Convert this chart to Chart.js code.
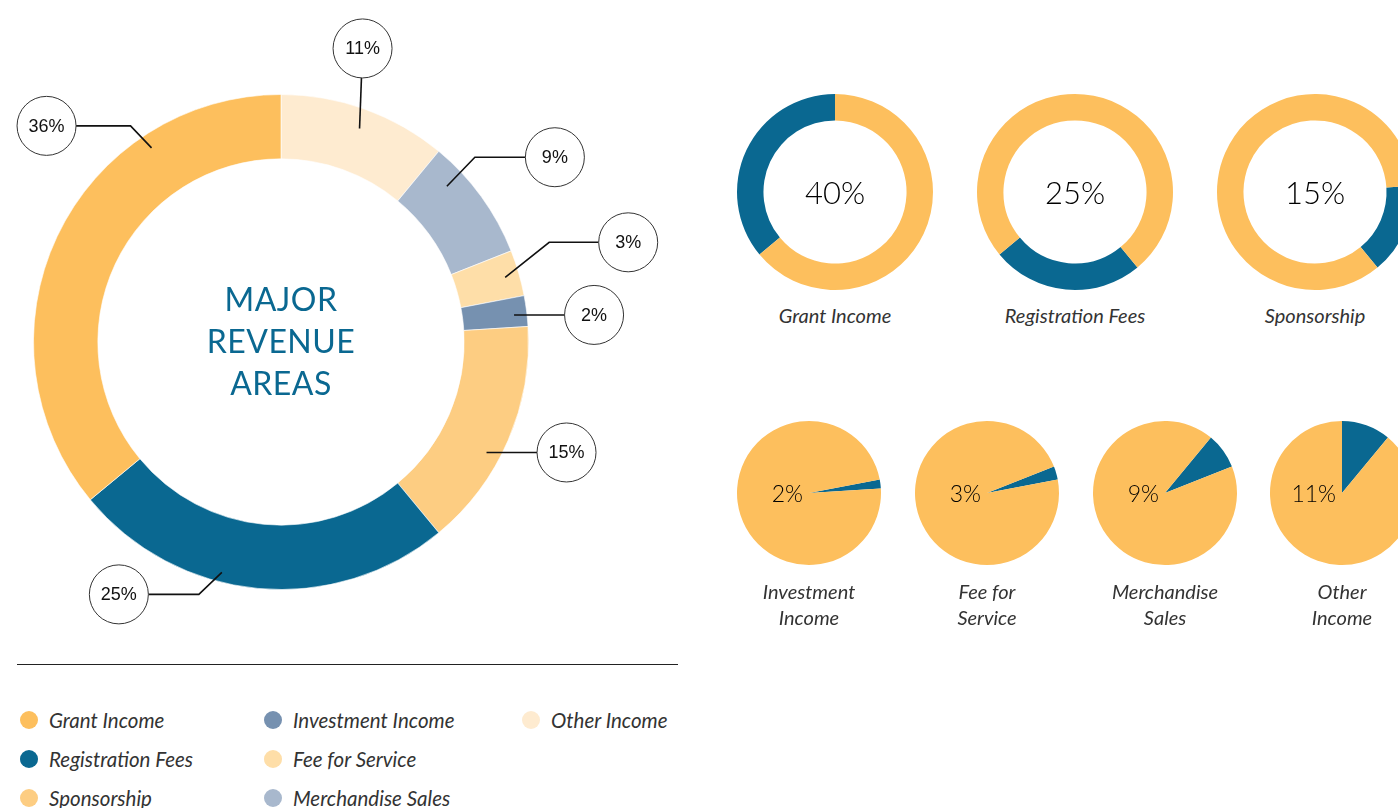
<!DOCTYPE html>
<html>
<head>
<meta charset="utf-8">
<script src="https://cdn.jsdelivr.net/npm/chart.js@4.4.0/dist/chart.umd.min.js"></script>
<style>
  html, body { margin: 0; padding: 0; background: #fff; }
  body { width: 1398px; height: 808px; overflow: hidden; position: relative; font-family: 'Lato', sans-serif; }
  canvas { position: absolute; }
  .title { position: absolute; left: 131px; top: 278px; width: 300px; text-align: center;
           color: #0a6891; font-size: 32px; line-height: 42px; letter-spacing: 0.5px; }
  .big-pct { position: absolute; width: 200px; text-align: center; font-size: 31px; font-weight: 300;
             color: #000; line-height: 40px; }
  .pie-pct { position: absolute; width: 80px; text-align: right; font-size: 23px; font-weight: 300;
             color: #000; line-height: 30px; }
  .small-title { position: absolute; width: 220px; text-align: center; font-size: 20px; font-style: italic;
                 color: #333; line-height: 26px; white-space: pre-line; }
  .divider { position: absolute; left: 17px; top: 664px; width: 661px; height: 1px; background: #222; }
  .legend-item { position: absolute; height: 26px; display: flex; align-items: center;
                 font-size: 20.5px; font-style: italic; color: #333; white-space: nowrap; }
  .legend-item span.dot { width: 18px; height: 18px; border-radius: 50%; margin-right: 11px; }
</style>
</head>
<body>
<canvas id="mainChart" width="700" height="650" style="left:0;top:0"></canvas>
<div class="title">MAJOR<br>REVENUE<br>AREAS</div>
<div class="divider"></div>

<script>
// legend order
const categories = ['Grant Income', 'Registration Fees', 'Sponsorship', 'Investment Income',
                    'Fee for Service', 'Merchandise Sales', 'Other Income'];
// arc sizes as drawn in the big ring (percent)
const shares = [36, 25, 15, 2, 3, 8, 11];
// percentages printed on the callout bubbles
const shareLabels = ['36%', '25%', '15%', '2%', '3%', '9%', '11%'];
// percentages printed on the small charts
const detailLabels = ['40%', '25%', '15%', '2%', '3%', '9%', '11%'];
// titles under the small charts
const detailTitles = ['Grant Income', 'Registration Fees', 'Sponsorship', 'Investment\nIncome',
                      'Fee for\nService', 'Merchandise\nSales', 'Other\nIncome'];

const colors = ['#fdbf5d', '#0a6891', '#fdcd82', '#7691b0', '#fedea8', '#a8b8cd', '#feebd0'];
const accentBlue = '#0a6891';
const accentYellow = '#fdbf5d';

// callout styling, legend order: where on the arc the leader starts, elbow and bubble offsets
const calloutStyle = [
    { frac: 0.74, depth: 0.78, elbow: [-21, -22], bubble: [-105, -22] },
    { frac: 0.60, depth: 0.85, elbow: [-23, 22], bubble: [-103, 22] },
    { frac: 0.59, depth: 0.78, elbow: [0, 0], bubble: [80, 0] },
    { frac: 0.58, depth: 0.80, elbow: [0, 0], bubble: [80, 0] },
    { frac: 0.51, depth: 0.78, elbow: [44, -35], bubble: [123, -35] },
    { frac: 0.25, depth: 0.69, elbow: [28, -29], bubble: [108, -29] },
    { frac: 0.51, depth: 0.69, elbow: [0, 0], bubble: [3, -80] }
];

// the ring runs clockwise from the top in reverse legend order
const ringOrder = categories.map((_, i) => i).reverse();
const total = shares.reduce((a, b) => a + b, 0);

const calloutPlugin = {
    id: 'callouts',
    afterDatasetsDraw(chart) {
        const ctx = chart.ctx;
        const arcs = chart.getDatasetMeta(0).data;
        const R = 29.5;
        ctx.save();
        arcs.forEach((arc, n) => {
            const i = ringOrder[n];
            const s = calloutStyle[i];
            const p = arc.getProps(['x', 'y', 'startAngle', 'endAngle', 'innerRadius', 'outerRadius'], true);
            const a = p.startAngle + (p.endAngle - p.startAngle) * s.frac;
            const r = p.innerRadius + (p.outerRadius - p.innerRadius) * s.depth;
            const ax = p.x + Math.cos(a) * r;
            const ay = p.y + Math.sin(a) * r;
            const ex = ax + s.elbow[0], ey = ay + s.elbow[1];
            const cx = ax + s.bubble[0], cy = ay + s.bubble[1];
            const dx = cx - ex, dy = cy - ey, len = Math.hypot(dx, dy);
            const bx = cx - dx / len * R, by = cy - dy / len * R;

            ctx.strokeStyle = '#111';
            ctx.lineWidth = 1.6;
            ctx.beginPath();
            ctx.moveTo(ax, ay);
            ctx.lineTo(ex, ey);
            ctx.lineTo(bx, by);
            ctx.stroke();

            ctx.fillStyle = '#fff';
            ctx.strokeStyle = '#333';
            ctx.lineWidth = 1;
            ctx.beginPath();
            ctx.arc(cx, cy, R, 0, Math.PI * 2);
            ctx.fill();
            ctx.stroke();

            ctx.fillStyle = '#111';
            ctx.font = '18px "Liberation Sans", Arial, sans-serif';
            ctx.textAlign = 'center';
            ctx.textBaseline = 'middle';
            ctx.fillText(shareLabels[i], cx, cy + 1);
        });
        ctx.restore();
    }
};

new Chart(document.getElementById('mainChart').getContext('2d'), {
    type: 'doughnut',
    data: {
        labels: ringOrder.map(i => categories[i]),
        datasets: [{
            data: ringOrder.map(i => shares[i]),
            backgroundColor: ringOrder.map(i => colors[i]),
            borderColor: 'rgba(255,255,255,0.6)',
            borderWidth: 1
        }]
    },
    options: {
        responsive: false,
        animation: false,
        cutout: '74%',
        layout: { padding: { left: 33, right: 171, top: 93, bottom: 59 } },
        plugins: { legend: { display: false }, tooltip: { enabled: false } }
    },
    plugins: [calloutPlugin]
});

// small charts: first three are rings, the rest are pies
const smallSpots = [
    { cx: 835, cy: 192, r: 98, titleY: 302 },
    { cx: 1075, cy: 192, r: 98, titleY: 302 },
    { cx: 1315, cy: 192, r: 98, titleY: 302 },
    { cx: 809, cy: 493, r: 72, titleY: 578 },
    { cx: 987, cy: 493, r: 72, titleY: 578 },
    { cx: 1165, cy: 493, r: 72, titleY: 578 },
    { cx: 1342, cy: 493, r: 72, titleY: 578 }
];

categories.forEach((name, k) => {
    const spot = smallSpots[k];
    const isRing = k < 3;
    const size = spot.r * 2 + 4;
    const canvas = document.createElement('canvas');
    canvas.width = size;
    canvas.height = size;
    canvas.style.left = (spot.cx - size / 2) + 'px';
    canvas.style.top = (spot.cy - size / 2) + 'px';
    document.body.appendChild(canvas);

    // start angle = everything that comes before it going clockwise in the big ring
    let before = 0;
    for (let j = k + 1; j < shares.length; j++) before += shares[j];

    new Chart(canvas.getContext('2d'), {
        type: isRing ? 'doughnut' : 'pie',
        data: {
            labels: [name, 'Rest'],
            datasets: [{
                data: [shares[k], total - shares[k]],
                backgroundColor: [accentBlue, accentYellow],
                borderWidth: 0
            }]
        },
        options: {
            responsive: false,
            animation: false,
            rotation: before / total * 360,
            cutout: isRing ? '73%' : 0,
            layout: { padding: 2 },
            plugins: { legend: { display: false }, tooltip: { enabled: false } }
        }
    });

    const pct = document.createElement('div');
    pct.textContent = detailLabels[k];
    if (isRing) {
        pct.className = 'big-pct';
        pct.style.left = (spot.cx - 100) + 'px';
        pct.style.top = (spot.cy - 20) + 'px';
    } else {
        pct.className = 'pie-pct';
        pct.style.left = (spot.cx - 6 - 80) + 'px';
        pct.style.top = (spot.cy - 15) + 'px';
    }
    document.body.appendChild(pct);

    const title = document.createElement('div');
    title.className = 'small-title';
    title.textContent = detailTitles[k];
    title.style.left = (spot.cx - 110) + 'px';
    title.style.top = spot.titleY + 'px';
    document.body.appendChild(title);
});

// legend, filled column by column
const legendCols = [29, 273, 531];
const legendRows = [720, 759, 798];
categories.forEach((name, i) => {
    const item = document.createElement('div');
    item.className = 'legend-item';
    item.style.left = (legendCols[Math.floor(i / 3)] - 9) + 'px';
    item.style.top = (legendRows[i % 3] - 13) + 'px';
    const dot = document.createElement('span');
    dot.className = 'dot';
    dot.style.background = colors[i];
    item.appendChild(dot);
    item.appendChild(document.createTextNode(name));
    document.body.appendChild(item);
});
</script>
</body>
</html>
